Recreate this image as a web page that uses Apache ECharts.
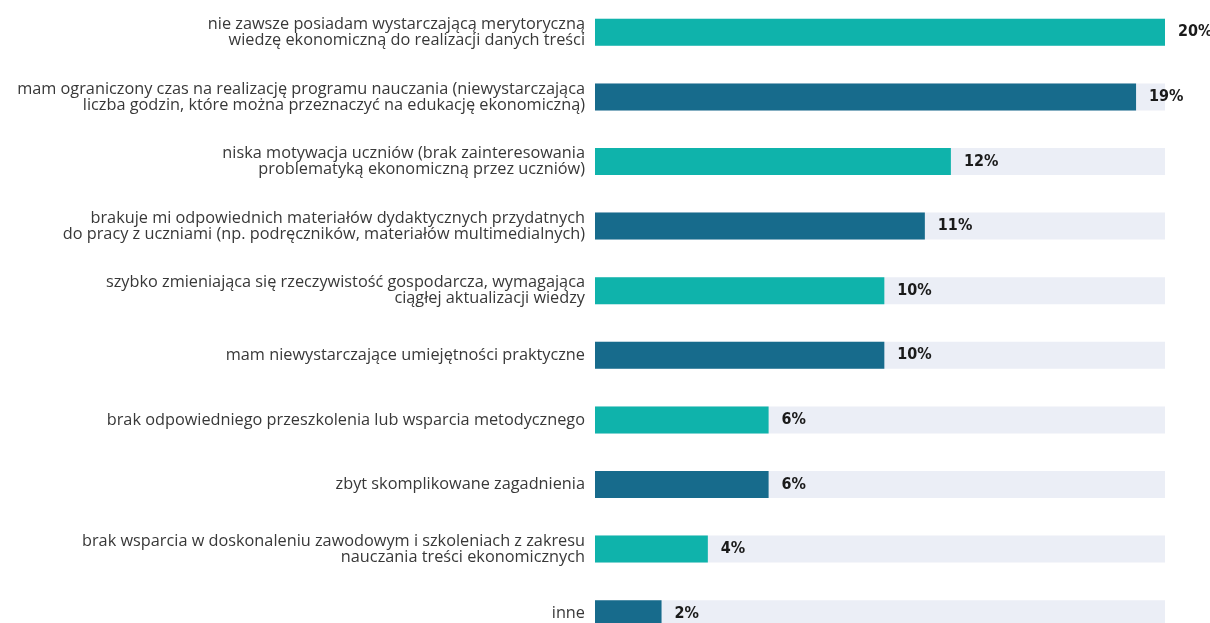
<!DOCTYPE html>
<html>
<head>
<meta charset="utf-8">
<script src="https://cdn.jsdelivr.net/npm/echarts@6/dist/echarts.min.js"></script>
<style>
  html, body { margin: 0; padding: 0; background: #ffffff; }
  #chart { width: 1210px; height: 623px; }
</style>
</head>
<body>
<div id="chart"></div>
<script>
// Reasons / difficulties, listed top to bottom
const categories = [
  'nie zawsze posiadam wystarczającą merytoryczną\nwiedzę ekonomiczną do realizacji danych treści',
  'mam ograniczony czas na realizację programu nauczania (niewystarczająca\nliczba godzin, które można przeznaczyć na edukację ekonomiczną)',
  'niska motywacja uczniów (brak zainteresowania\nproblematyką ekonomiczną przez uczniów)',
  'brakuje mi odpowiednich materiałów dydaktycznych przydatnych\ndo pracy z uczniami (np. podręczników, materiałów multimedialnych)',
  'szybko zmieniająca się rzeczywistość gospodarcza, wymagająca\nciągłej aktualizacji wiedzy',
  'mam niewystarczające umiejętności praktyczne',
  'brak odpowiedniego przeszkolenia lub wsparcia metodycznego',
  'zbyt skomplikowane zagadnienia',
  'brak wsparcia w doskonaleniu zawodowym i szkoleniach z zakresu\nnauczania treści ekonomicznych',
  'inne'
];

// Share of answers, in percent
const values = [19.7, 18.7, 12.3, 11.4, 10.0, 10.0, 6.0, 6.0, 3.9, 2.3];

// Alternating bar colours
const palette = ['#0fb3ab', '#176b8c'];

const chart = echarts.init(document.getElementById('chart'), null, { renderer: 'canvas' });

chart.setOption({
  animation: false,
  grid: {
    left: 595, right: 45, top: 0, height: 646,
    containLabel: false,
    outerBoundsMode: 'none'
  },
  xAxis: {
    type: 'value',
    min: 0,
    max: Math.max(...values),
    show: false
  },
  yAxis: {
    type: 'category',
    inverse: true,
    data: categories,
    axisLine: { show: false },
    axisTick: { show: false },
    splitLine: { show: false },
    axisLabel: {
      margin: 10,
      align: 'right',
      fontFamily: 'Open Sans',
      fontSize: 16.3,
      lineHeight: 16,
      color: '#383838'
    }
  },
  series: [{
    type: 'bar',
    barWidth: 27,
    data: values.map((v, i) => ({ value: v, itemStyle: { color: palette[i % 2] } })),
    showBackground: true,
    backgroundStyle: { color: '#ebeef6' },
    label: {
      show: true,
      position: 'right',
      distance: 13,
      formatter: p => Math.round(p.value) + '%',
      fontFamily: 'DejaVu Sans Condensed',
      fontWeight: 'bold',
      fontSize: 16,
      color: '#1a1a1a'
    }
  }]
});
</script>
</body>
</html>
